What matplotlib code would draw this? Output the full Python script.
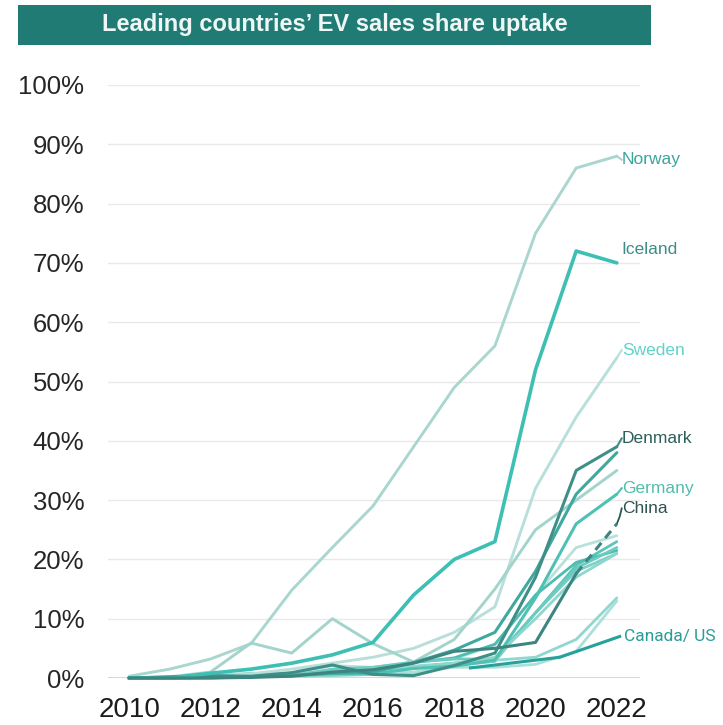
import matplotlib
matplotlib.use("Agg")
import matplotlib.pyplot as plt
from matplotlib.patches import Rectangle

plt.rcParams['font.family'] = ['Liberation Sans', 'DejaVu Sans']

years = list(range(2010, 2023))

# EV share of new car sales, %
norway      = [0.3, 1.5, 3.2, 5.8, 14.8, 22.0, 29.0, 39.0, 49.0, 56.0, 75.0, 86.0, 88.0]
iceland     = [0.0, 0.0, 0.8, 1.5, 2.5, 3.9, 6.0, 14.0, 20.0, 23.0, 52.0, 72.0, 70.0]
sweden      = [0.0, 0.1, 0.5, 0.7, 1.5, 2.5, 3.5, 5.0, 7.7, 12.0, 32.0, 44.0, 54.0]
denmark     = [0.0, 0.2, 0.4, 0.3, 0.9, 2.2, 0.6, 0.4, 2.1, 4.2, 17.0, 35.0, 39.0]
finland     = [0.0, 0.0, 0.1, 0.2, 0.5, 0.8, 1.0, 2.6, 4.7, 7.7, 18.0, 31.0, 38.0]
netherlands = [0.0, 0.2, 1.0, 5.9, 4.2, 10.0, 5.8, 2.7, 6.5, 15.0, 25.0, 30.0, 35.0]
germany     = [0.0, 0.0, 0.1, 0.2, 0.4, 0.7, 0.7, 1.6, 2.0, 3.0, 13.5, 26.0, 31.0]
china       = [0.0, 0.0, 0.0, 0.1, 0.3, 1.0, 1.4, 2.5, 4.5, 5.0, 6.0, 17.6, 26.0]
uk          = [0.0, 0.0, 0.1, 0.2, 0.6, 1.1, 1.4, 1.9, 2.5, 3.2, 11.0, 19.0, 23.0]
france      = [0.0, 0.1, 0.3, 0.8, 0.7, 1.2, 1.4, 1.7, 2.1, 2.8, 11.0, 18.0, 21.0]
switzerland = [0.0, 0.1, 0.3, 0.6, 0.8, 2.1, 1.8, 2.7, 3.2, 5.6, 14.0, 22.0, 24.0]
portugal    = [0.0, 0.0, 0.2, 0.2, 0.4, 0.8, 1.5, 2.6, 3.4, 5.7, 14.0, 19.5, 21.5]
belgium     = [0.0, 0.0, 0.0, 0.2, 0.4, 1.5, 1.8, 2.7, 3.2, 3.2, 11.0, 18.5, 22.0]
austria     = [0.0, 0.0, 0.0, 0.3, 0.4, 0.8, 1.6, 2.0, 2.5, 3.5, 10.0, 17.0, 21.0]
canada      = [0.0, 0.0, 0.0, 0.2, 0.3, 0.4, 0.6, 0.9, 2.2, 3.0, 3.5, 6.5, 13.5]
usa         = [0.0, 0.0, 0.2, 0.4, 0.6, 0.7, 0.8, 1.0, 1.8, 1.8, 2.3, 4.5, 13.0]

y_ticks = [0, 10, 20, 30, 40, 50, 60, 70, 80, 90, 100]
y_tick_labels = [f"{t}%" for t in y_ticks]
x_ticks = [2010, 2012, 2014, 2016, 2018, 2020, 2022]

title = "Leading countries\u2019 EV sales share uptake"

# (series, colour, width)
background = [
    (uk,          "#5cc4b8", 2.0),
    (france,      "#7fd0c6", 2.0),
    (switzerland, "#b9e0da", 2.0),
    (portugal,    "#4dbdb1", 2.0),
    (belgium,     "#6ccbbf", 2.0),
    (austria,     "#8fd6cd", 2.0),
    (canada,      "#8fd8cf", 2.0),
    (usa,         "#a9e0d9", 2.0),
]
highlighted = [
    (norway,      "#a9d6cf", 2.1),
    (sweden,      "#b8dfda", 2.1),
    (netherlands, "#a3d4cc", 2.1),
    (germany,     "#4fc1b4", 2.2),
    (finland,     "#3fa9a0", 2.2),
    (denmark,     "#3e8f88", 2.2),
    (iceland,     "#3dbfb3", 2.6),
]

fig = plt.figure(figsize=(7.23, 7.25), dpi=100)
ax = fig.add_axes([108 / 723, 1 - 678 / 725, (640 - 108) / 723, (678 - 85) / 725])

for vals, col, lw in background + highlighted:
    ax.plot(years, vals, color=col, lw=lw, solid_joinstyle="round",
            solid_capstyle="round", clip_on=False, zorder=3)

# China: solid to 2021, dashed to 2022
ax.plot(years[:-1], china[:-1], color="#3d8580", lw=2.2, clip_on=False, zorder=4)
ax.plot(years[-2:], china[-2:], color="#3d8580", lw=2.2, ls=(0, (3, 2)),
        clip_on=False, zorder=4)

ax.set_xlim(2009.48, 2022.57)
ax.set_ylim(0, 100)
ax.set_yticks(y_ticks)
ax.set_yticklabels(y_tick_labels)
ax.set_xticks(x_ticks)
ax.tick_params(axis="y", length=0, pad=17, labelsize=18.5, labelcolor="#262626")
ax.tick_params(axis="x", length=0, pad=14, labelsize=20, labelcolor="#1c1c1c")
for s in ax.spines.values():
    s.set_visible(False)
ax.grid(axis="y", color="#e9e9e9", lw=1.0, zorder=0)
ax.axhline(0, color="#cfcfcf", lw=1.3, zorder=1)

# Country labels
lx = 2022.12
labels = [
    ("Norway",  87.4, "#3aa59b"),
    ("Iceland", 72.2, "#3b8d86"),
    ("Sweden",  55.3, "#62d2c8"),
    ("Denmark", 40.4, "#2e5e5a"),
    ("Germany", 32.0, "#52bcb0"),
    ("China",   28.6, "#2e5552"),
]
for txt, yv, col in labels:
    ax.text(lx, yv, txt, color=col, fontsize=12.5, va="center", ha="left",
            clip_on=False)

# Short leaders to the labels
ax.plot([2022.0, lx], [norway[-1], 87.4], color="#a9d6cf", lw=1.5, clip_on=False)
ax.plot([2022.0, lx], [sweden[-1], 55.3], color="#b8dfda", lw=1.5, clip_on=False)
ax.plot([2022.0, lx], [denmark[-1], 40.4], color="#3e8f88", lw=1.5, clip_on=False)
ax.plot([2022.0, lx], [germany[-1], 32.0], color="#4fc1b4", lw=1.5, clip_on=False)
ax.plot([2022.0, 2022.07, lx], [china[-1], 27.2, 28.6], color="#2e5552", lw=1.3,
        clip_on=False)

# Canada / US callout
callout_x = [2018.4, 2020.6, 2022.07]
callout_y = [1.7, 3.5, 7.0]
ax.plot(callout_x, callout_y, color="#28a09c", lw=2.2, clip_on=False, zorder=5)
ax.text(2022.17, 7.0, "Canada/ US", color="#2a9d9a", fontsize=12.5,
        family=["Roboto", "DejaVu Sans"], va="center", ha="left", clip_on=False)

# Title banner
fig.patches.append(Rectangle((18 / 723, 1 - 45 / 725), 633 / 723, 40 / 725,
                             transform=fig.transFigure, facecolor="#1f7b73",
                             edgecolor="none"))
fig.text(335 / 723, 1 - 25 / 725, title, color="#eef7f5", fontsize=17,
         fontweight="bold", ha="center", va="center")

fig.savefig("out.png", dpi=100, facecolor="white")
